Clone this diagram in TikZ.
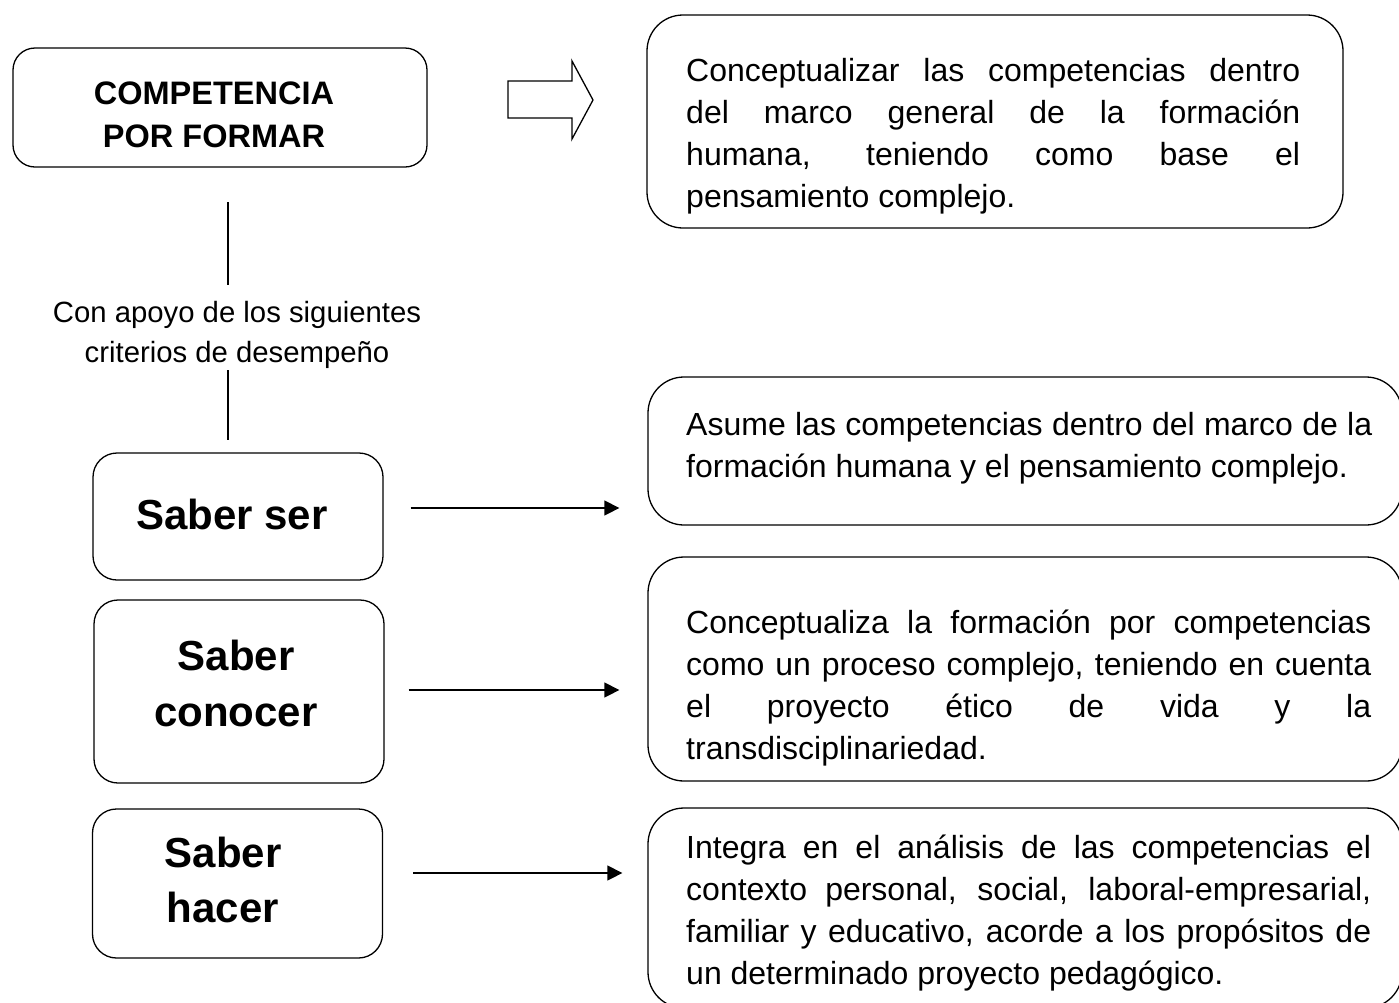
\documentclass[tikz,border=0pt]{standalone}
\usepackage{fontspec}
\setmainfont{Liberation Sans}
\usetikzlibrary{arrows.meta}
\tolerance=10000
\hbadness=10000
\begin{document}
\begin{tikzpicture}[x=1pt,y=-1pt,
  lbox/.style={draw, line width=1.3pt, rounded corners=24pt, inner sep=0pt},
  rbox/.style={draw, line width=1.3pt, rounded corners=36pt, inner sep=0pt},
  txt/.style={inner sep=0pt},
  arr/.style={line width=1.3pt, -{Triangle[length=15pt,width=15pt]}},
  vline/.style={line width=1.3pt}]
\useasboundingbox (0,0) rectangle (1399,1002);

% left boxes
\node[lbox, rounded corners=22pt, minimum width=414pt, minimum height=119pt] (comp) at (220,107.5) {};
\node[lbox, minimum width=290pt, minimum height=127pt] (ss) at (238,516.5) {};
\node[lbox, minimum width=290pt, minimum height=183pt] (sc) at (239,691.5) {};
\node[lbox, minimum width=290pt, minimum height=149pt] (sh) at (237.5,883.5) {};

% right boxes
\node[rbox, minimum width=696pt, minimum height=213pt] (r1) at (995,121.5) {};
\node[rbox, minimum width=754pt, minimum height=148pt] (r2) at (1025,451) {};
\node[rbox, minimum width=754pt, minimum height=224pt] (r3) at (1025,669) {};
\node[rbox, minimum width=754pt, minimum height=200pt] (r4) at (1025,908) {};

% texts in left boxes
\node[txt, anchor=base] (tcomp) at (214,104) {\parbox[t]{400pt}{\centering\fontsize{32.5}{43}\selectfont\bfseries COMPETENCIA\\POR FORMAR}};
\node[txt, anchor=base] (tss) at (232,529) {\fontsize{42}{56}\selectfont\bfseries Saber ser};
\node[txt, anchor=base] (tsc) at (236,670) {\parbox[t]{280pt}{\centering\fontsize{42}{56}\selectfont\bfseries Saber\\conocer}};
\node[txt, anchor=base] (tsh) at (223,867) {\parbox[t]{280pt}{\centering\fontsize{42}{55}\selectfont\bfseries Saber\\hacer}};

% label between
\node[txt, anchor=base] (lbl) at (237,322) {\parbox[t]{420pt}{\centering\fontsize{29.3}{40}\selectfont Con apoyo de los siguientes\\criterios de desempeño}};

% texts in right boxes
\node[txt, anchor=base west] (t1) at (686,81) {\parbox[t]{614pt}{\fontsize{32}{42}\selectfont
Conceptualizar las competencias dentro\linebreak del marco general de la formación\linebreak humana, teniendo como base el\linebreak pensamiento complejo.}};
\node[txt, anchor=base west] (t2) at (686,435) {\parbox[t]{686pt}{\fontsize{32}{42}\selectfont
Asume las competencias dentro del marco de la\linebreak formación humana y el pensamiento complejo.}};
\node[txt, anchor=base west] (t3) at (686,633) {\parbox[t]{685pt}{\fontsize{32}{42}\selectfont
Conceptualiza la formación por competencias\linebreak como un proceso complejo, teniendo en cuenta\linebreak el proyecto ético de vida y la\linebreak transdisciplinariedad.}};
\node[txt, anchor=base west] (t4) at (686,858) {\parbox[t]{685pt}{\fontsize{32}{42}\selectfont
Integra en el análisis de las competencias el\linebreak contexto personal, social, laboral-empresarial,\linebreak familiar y educativo, acorde a los propósitos de\linebreak un determinado proyecto pedagógico.}};

% vertical connector with label
\coordinate (v1a) at (228,202);
\coordinate (v1b) at (228,285);
\coordinate (v2a) at (228,370);
\coordinate (v2b) at (228,440);
\draw[vline] (v1a) -- (v1b);
\draw[vline] (v2a) -- (v2b);

% block arrow
\draw[line width=1.3pt, line join=miter] (508,81) -- (572,81) -- (572,61) -- (593,100) -- (572,139) -- (572,118) -- (508,118) -- cycle;

% arrows
\draw[arr] ([xshift=27pt,yshift=8.5pt]ss.east) -- ([xshift=-28pt,yshift=8.5pt]ss.east -| r2.west);
\draw[arr] ([xshift=24pt,yshift=1.5pt]sc.east) -- ([xshift=-28pt,yshift=1.5pt]sc.east -| r3.west);
\draw[arr] ([xshift=30pt,yshift=10.5pt]sh.east) -- ([xshift=-25pt,yshift=10.5pt]sh.east -| r4.west);
\end{tikzpicture}
\end{document}
